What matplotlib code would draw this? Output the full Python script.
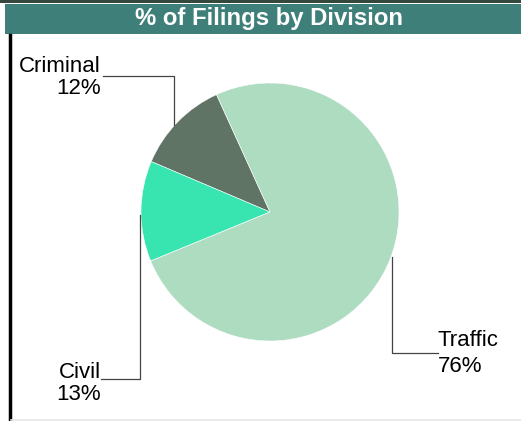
import matplotlib
matplotlib.use("Agg")
import matplotlib.pyplot as plt
from matplotlib.patches import Rectangle

categories = ["Criminal", "Civil", "Traffic"]
values = [11.8, 12.6, 75.6]
pct_labels = ["12%", "13%", "76%"]
colors = ["#607466", "#38e5b0", "#aedcc0"]

plt.rcParams['font.family'] = ['Liberation Sans', 'DejaVu Sans']

W, H = 521, 421
fig = plt.figure(figsize=(W / 100, H / 100), dpi=100)
ax = fig.add_axes([0, 0, 1, 1])
ax.set_xlim(0, W)
ax.set_ylim(0, H)
ax.axis("off")

def Y(py):
    return H - py

# frame decorations
ax.add_patch(Rectangle((0, Y(3)), W, 3, color="#34483c", lw=0, zorder=1))
ax.add_patch(Rectangle((5, Y(34)), W - 5, 30, color="#3f7f7a", lw=0, zorder=1))
ax.plot([10, 10], [Y(35), Y(421)], color="black", lw=2.5, zorder=2)
ax.plot([11, W], [Y(419.5), Y(419.5)], color="#e6e6e6", lw=1.2, zorder=2)
ax.text(269, Y(19), "% of Filings by Division", color="white", fontsize=17.2,
        fontweight="bold", ha="center", va="center", zorder=3)

# pie
ax.pie(values, colors=colors, startangle=114.5, counterclock=True,
       center=(270, Y(212)), radius=129,
       wedgeprops=dict(linewidth=0.4, edgecolor="white"))
ax.set_xlim(0, W)
ax.set_ylim(0, H)
ax.set_aspect("auto")

# leader lines
lc = "#444444"
ax.plot([103, 174, 174], [Y(76), Y(76), Y(125)], color=lc, lw=0.9)
ax.plot([101, 140, 140], [Y(379), Y(379), Y(215)], color=lc, lw=0.9)
ax.plot([392, 392, 438], [Y(257), Y(353), Y(353)], color=lc, lw=0.9)

fs = 16
ax.text(101, Y(66), categories[0], fontsize=fs, ha="right", va="center")
ax.text(101, Y(89), pct_labels[0], fontsize=fs, ha="right", va="center")
ax.text(101, Y(372), categories[1], fontsize=fs, ha="right", va="center")
ax.text(101, Y(395), pct_labels[1], fontsize=fs, ha="right", va="center")
ax.text(438, Y(341), categories[2], fontsize=fs, ha="left", va="center")
ax.text(438, Y(366), pct_labels[2], fontsize=fs, ha="left", va="center")

fig.savefig("out.png", dpi=100)
